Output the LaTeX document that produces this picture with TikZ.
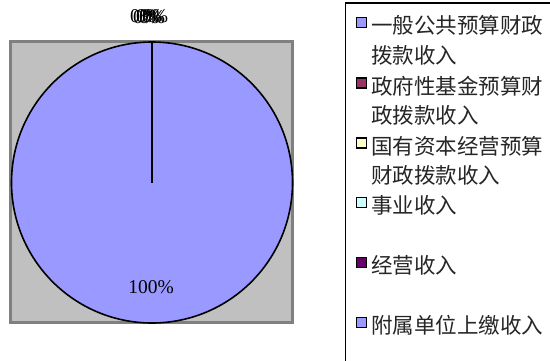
\documentclass[tikz,border=0pt]{standalone}
\usepackage{fontspec}
\setmainfont{Liberation Serif}
\newfontfamily\cjk{Noto Sans CJK SC}
\definecolor{plotgray}{HTML}{C0C0C0}
\definecolor{plotedge}{HTML}{808080}
\definecolor{cA}{HTML}{9999FF}
\definecolor{cB}{HTML}{993366}
\definecolor{cC}{HTML}{FFFFCC}
\definecolor{cD}{HTML}{CCFFFF}
\definecolor{cE}{HTML}{660066}
\definecolor{cF}{HTML}{9999FF}
\begin{document}
\begin{tikzpicture}[x=1pt,y=-1pt,
  pct/.style={font=\fontsize{19.5}{19.5}\selectfont, inner sep=0pt},
  mark box/.style={draw=black, line width=1.8pt, minimum width=10pt, minimum height=10pt, inner sep=0pt},
  legtext/.style={font=\cjk\fontsize{21.5}{21.5}\selectfont, anchor=base west, inner sep=0pt, text=black!85}]
\useasboundingbox (0,0) rectangle (550,360);
\clip (0,0) rectangle (550,360);
\fill[white] (0,0) rectangle (550,360);
% plot area
\draw[draw=plotedge, line width=2.5pt, fill=plotgray] (10.5,41.5) rectangle (292.5,322.5);
% pie
\coordinate (ctr) at (152,182.5);
\coordinate (top) at (152,42);
\draw[line width=1.6pt, fill=cA] (ctr) circle[radius=140.5pt];
\draw[line width=2pt] (ctr) -- (top);
% labels
\node[pct] (p100) at (151,287) {100\%};
\node[pct] (z1) at (143,16) {0\%};
\node[pct] (z2) at (146,17) {0\%};
\node[pct] (z3) at (149,16) {0\%};
\node[pct] (z4) at (152,17) {0\%};
\node[pct] (z5) at (155,16) {0\%};
% legend
\draw[line width=1.5pt] (345.5,3) rectangle (600,400);
\node[mark box, fill=cA] (m1) at (361.5,22.5) {};
\node[mark box, fill=cB] (m2) at (361.5,83) {};
\node[mark box, fill=cC] (m3) at (361.5,143) {};
\node[mark box, fill=cD] (m4) at (361.5,202.5) {};
\node[mark box, fill=cE] (m5) at (361.5,262.5) {};
\node[mark box, fill=cF] (m6) at (361.5,322.5) {};
\node[legtext] (t1a) at (371,33) {一般公共预算财政};
\node[legtext] (t1b) at (371,63) {拨款收入};
\node[legtext] (t2a) at (371,94) {政府性基金预算财};
\node[legtext] (t2b) at (371,123) {政拨款收入};
\node[legtext] (t3a) at (371,154) {国有资本经营预算};
\node[legtext] (t3b) at (371,183) {财政拨款收入};
\node[legtext] (t4) at (371,213) {事业收入};
\node[legtext] (t5) at (371,273) {经营收入};
\node[legtext] (t6) at (371,333) {附属单位上缴收入};
\end{tikzpicture}
\end{document}
